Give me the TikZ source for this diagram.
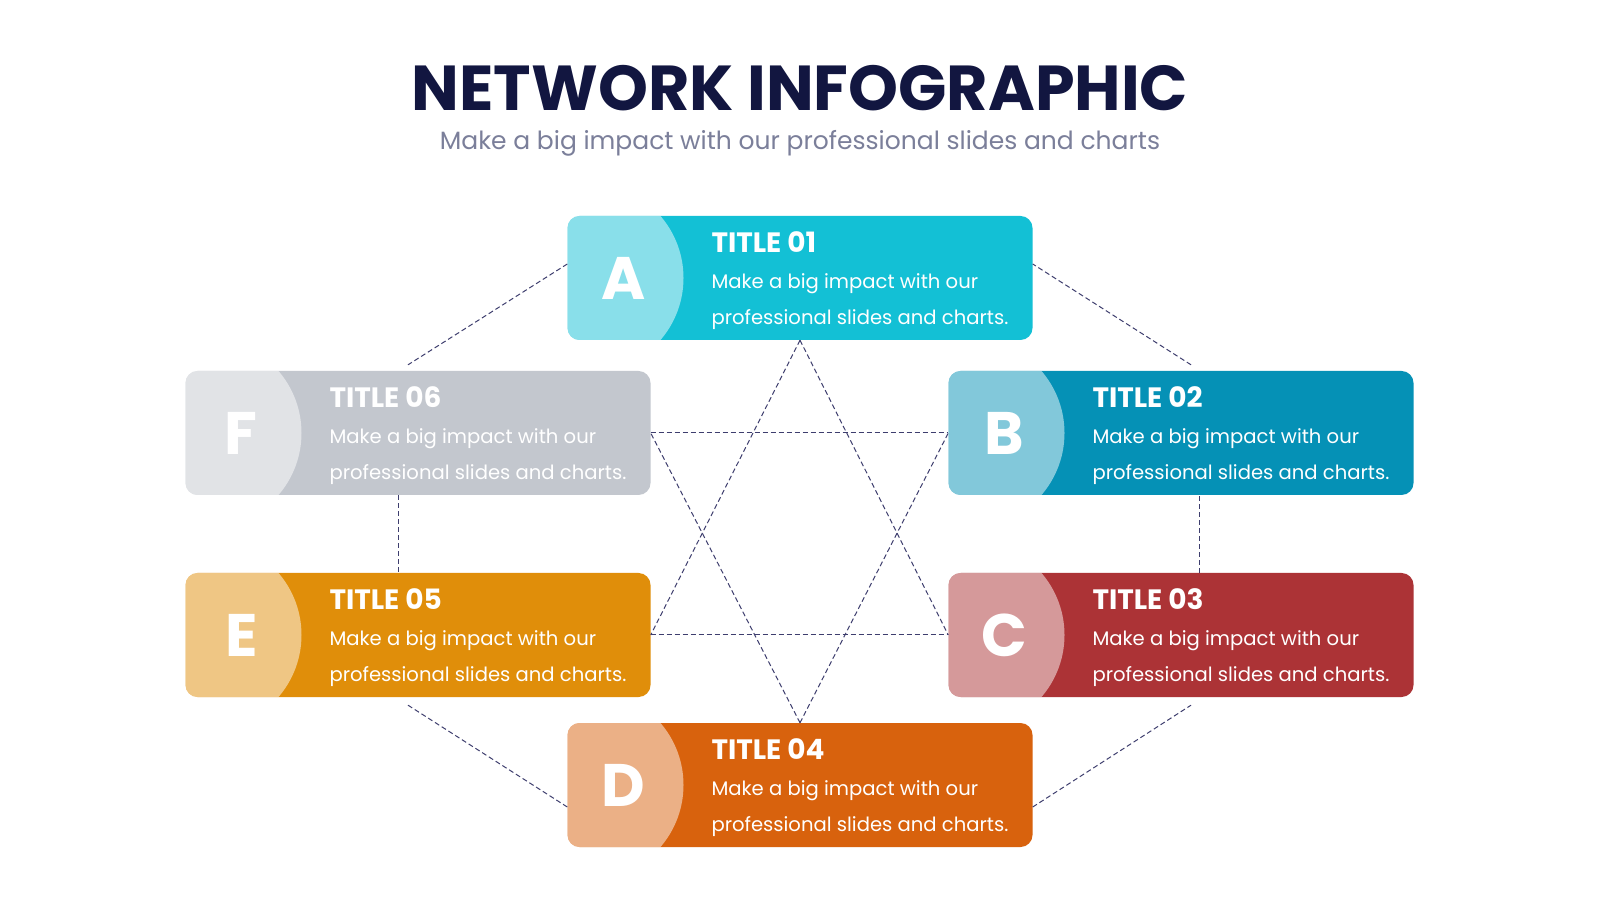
\documentclass[tikz,border=0pt]{standalone}
\usepackage{fontspec}
\setmainfont{Poppins}
\usetikzlibrary{positioning}

\definecolor{navy}{HTML}{121640}
\definecolor{subgray}{HTML}{7B7F9A}
\definecolor{linkcol}{HTML}{3E3E6E}
\definecolor{cola}{HTML}{13C0D5}
\definecolor{colb}{HTML}{0591B6}
\definecolor{colc}{HTML}{AC3336}
\definecolor{cold}{HTML}{D8620D}
\definecolor{cole}{HTML}{E08E0A}
\definecolor{colf}{HTML}{C3C7CE}

\tikzset{
  card/.style={rectangle, rounded corners=12pt, minimum width=465pt, minimum height=124pt,
    inner sep=0pt, fill=#1,
    path picture={\fill[white, fill opacity=.5]
      ([xshift=21pt]path picture bounding box.west) circle[radius=95pt];}},
  letter/.style={text=white, inner sep=0pt, font=\fontsize{60}{60}\selectfont\bfseries},
  cardtitle/.style={anchor=base west, text=white, inner sep=0pt,
    font=\fontsize{28}{28}\selectfont\bfseries},
  cardtext/.style={anchor=base west, text=white, inner sep=0pt, align=left,
    font=\fontsize{19.6}{36}\selectfont},
  link/.style={draw=linkcol, line width=1pt, dash pattern=on 5pt off 3pt},
}

\begin{document}
\begin{tikzpicture}[x=1pt, y=1pt, node distance=150pt, on grid]
   \fill[white] (0,0) rectangle (1600,900);
   \useasboundingbox (0,0) rectangle (1600,900);

   \node[anchor=base, text=navy, font=\fontsize{63.5}{63.5}\selectfont\bfseries] (title)
      at (800,789) {NETWORK INFOGRAPHIC};
   \node[anchor=base, text=subgray, font=\fontsize{25}{25}\selectfont] (subtitle)
      at (800,750) {Make a big impact with our professional slides and charts};

   \node[card=cola] (a) at (800,622) {};
   \node[card=colf] (f) [below left=155pt and 382pt of a]  {};
   \node[card=colb] (b) [below right=155pt and 381pt of a] {};
   \node[card=cole] (e) [below=202pt of f] {};
   \node[card=colc] (c) [below=202pt of b] {};
   \node[card=cold] (d) [below=507pt of a] {};

   % letters
   \node[letter] (a-l) at ([xshift=56pt]a.west) {A};
   \node[letter] (b-l) at ([xshift=56pt]b.west) {B};
   \node[letter] (c-l) at ([xshift=56pt]c.west) {C};
   \node[letter] (d-l) at ([xshift=56pt]d.west) {D};
   \node[letter] (e-l) at ([xshift=56pt]e.west) {E};
   \node[letter] (f-l) at ([xshift=56pt]f.west) {F};

   % titles and texts (text anchored on its last line)
   \node[cardtitle] (a-t) at ([xshift=144pt,yshift=-37pt]a.north west) {TITLE 01};
   \node[cardtitle] (b-t) at ([xshift=144pt,yshift=-37pt]b.north west) {TITLE 02};
   \node[cardtitle] (c-t) at ([xshift=144pt,yshift=-37pt]c.north west) {TITLE 03};
   \node[cardtitle] (d-t) at ([xshift=144pt,yshift=-37pt]d.north west) {TITLE 04};
   \node[cardtitle] (e-t) at ([xshift=144pt,yshift=-37pt]e.north west) {TITLE 05};
   \node[cardtitle] (f-t) at ([xshift=144pt,yshift=-37pt]f.north west) {TITLE 06};
   \node[cardtext] (a-x) at ([xshift=144pt,yshift=-109pt]a.north west)
      {Make a big impact with our\\professional slides and charts.};
   \node[cardtext] (b-x) at ([xshift=144pt,yshift=-109pt]b.north west)
      {Make a big impact with our\\professional slides and charts.};
   \node[cardtext] (c-x) at ([xshift=144pt,yshift=-109pt]c.north west)
      {Make a big impact with our\\professional slides and charts.};
   \node[cardtext] (d-x) at ([xshift=144pt,yshift=-109pt]d.north west)
      {Make a big impact with our\\professional slides and charts.};
   \node[cardtext] (e-x) at ([xshift=144pt,yshift=-109pt]e.north west)
      {Make a big impact with our\\professional slides and charts.};
   \node[cardtext] (f-x) at ([xshift=144pt,yshift=-109pt]f.north west)
      {Make a big impact with our\\professional slides and charts.};

   % star
   \path[link]
    (a.south) edge (e.east)
              edge (c.west)
    (e.east)  edge (c.west)
    (d.north) edge (f.east)
              edge (b.west)
    (f.east)  edge (b.west);

   % outer ring
   \path[link]
    ([yshift=14pt]a.west)             edge ([xshift=-10pt,yshift=6pt]f.north)
    ([xshift=-20pt]f.south)           edge ([xshift=-20pt]e.north)
    ([xshift=-10pt,yshift=-8pt]e.south) edge ([yshift=-22pt]d.west)
    ([yshift=-22pt]d.east)            edge ([xshift=10pt,yshift=-8pt]c.south)
    ([xshift=18pt]c.north)            edge ([xshift=18pt]b.south)
    ([xshift=10pt,yshift=6pt]b.north) edge ([yshift=14pt]a.east);
\end{tikzpicture}
\end{document}
